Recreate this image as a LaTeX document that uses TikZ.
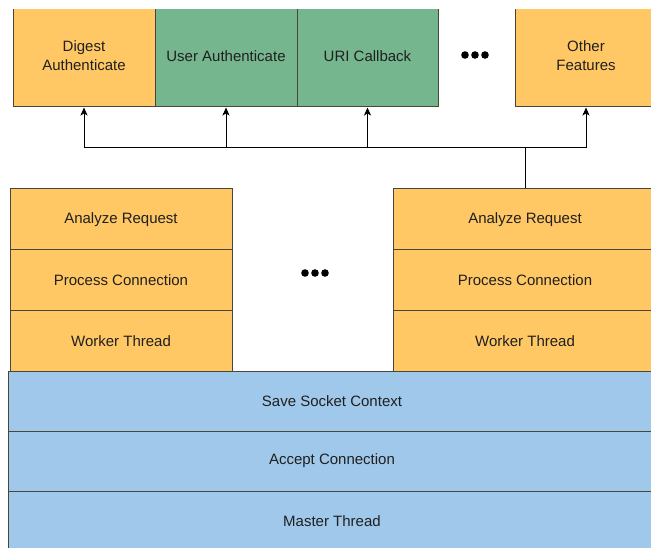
\documentclass[tikz,border=0pt]{standalone}
\usepackage{fontspec}
\setmainfont{Liberation Sans}
\usetikzlibrary{arrows.meta}
\definecolor{orng}{RGB}{255,200,100}
\definecolor{grn}{RGB}{118,182,142}
\definecolor{blu}{RGB}{160,200,234}
\definecolor{edgec}{RGB}{72,70,58}
\definecolor{txt}{RGB}{32,32,32}
\tikzset{
  box/.style={draw=edgec, line width=1pt, rectangle, inner sep=0pt, align=center,
    font=\fontsize{15}{19}\selectfont, text=txt},
  obox/.style={box, fill=orng},
  gbox/.style={box, fill=grn},
  bbox/.style={box, fill=blu},
  conn/.style={line width=1pt, draw=black},
  arr/.style={conn, -{Stealth[length=8pt,width=7pt,inset=2pt]}},
  dotc/.style={fill=black}
}
\begin{document}
\begin{tikzpicture}[x=1pt,y=-1pt]
\useasboundingbox (0,0) rectangle (651,548);
\clip (0,0) rectangle (651,548);
% top feature row
\begin{scope}
\clip (0,10) rectangle (651,548);
\node[obox, minimum width=142pt, minimum height=102pt] (dig) at (84,56) {Digest\\Authenticate};
\node[gbox, minimum width=142pt, minimum height=102pt] (usr) at (226,56) {User Authenticate};
\node[gbox, minimum width=141pt, minimum height=102pt] (uri) at (367.5,56) {URI Callback};
\node[obox, minimum width=142pt, minimum height=102pt] (oth) at (586,56) {Other\\Features};
\end{scope}
% ellipsis dots (top)
\fill[dotc] (465,55) circle (3.8);
\fill[dotc] (475,55) circle (3.8);
\fill[dotc] (485,55) circle (3.8);
% left worker stack
\node[obox, minimum width=222pt, minimum height=61pt] (la) at (121,219.5) {Analyze Request};
\node[obox, minimum width=222pt, minimum height=61pt] (lp) at (121,280.5) {Process Connection};
\node[obox, minimum width=222pt, minimum height=60pt] (lw) at (121,341) {Worker Thread};
% right worker stack
\node[obox, minimum width=264pt, minimum height=61pt] (ra) at (525,219.5) {Analyze Request};
\node[obox, minimum width=264pt, minimum height=61pt] (rp) at (525,280.5) {Process Connection};
\node[obox, minimum width=264pt, minimum height=60pt] (rw) at (525,341) {Worker Thread};
% middle dots
\fill[dotc] (305,273) circle (3.8);
\fill[dotc] (315,273) circle (3.8);
\fill[dotc] (325,273) circle (3.8);
% master thread stack
\node[bbox, minimum width=648pt, minimum height=60pt] (ss) at (332,401) {Save Socket Context};
\node[bbox, minimum width=648pt, minimum height=60pt] (ac) at (332,461) {Accept Connection};
\node[bbox, minimum width=648pt, minimum height=60pt] (mt) at (332,521) {Master Thread};
% connectors
\coordinate (bus) at (0,148);
\draw[conn] (dig.south |- bus) -- (oth.south |- bus);
\draw[conn] (ra.north) -- (ra.north |- bus);
\foreach \n in {dig,usr,uri,oth} \draw[arr] (\n.south |- bus) -- (\n.south);
\end{tikzpicture}
\end{document}
